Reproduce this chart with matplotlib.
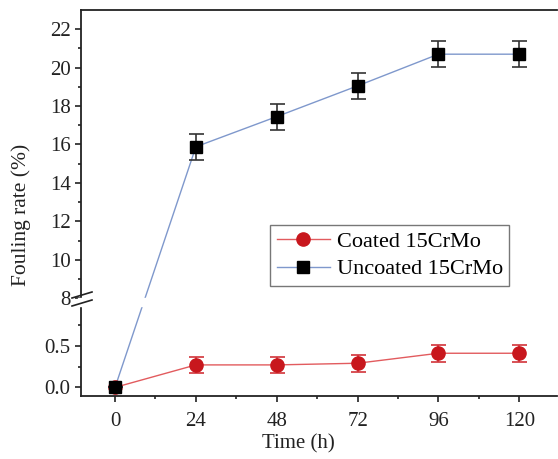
import matplotlib.pyplot as plt
import numpy as np
from matplotlib.lines import Line2D
from matplotlib.ticker import FixedLocator, FixedFormatter

plt.rcParams['font.family'] = ['Liberation Serif', 'DejaVu Serif']

# data
time_h = [0, 24, 48, 72, 96, 120]
coated = [0.0, 0.27, 0.27, 0.29, 0.41, 0.41]
coated_err = [0.0, 0.10, 0.10, 0.10, 0.10, 0.10]
uncoated = [0.0, 15.88, 17.45, 19.05, 20.70, 20.70]
uncoated_err = [0.0, 0.68, 0.68, 0.68, 0.68, 0.68]

x_ticks = [0, 24, 48, 72, 96, 120]
x_minor = [12, 36, 60, 84, 108]
y_ticks = [0, 0.5, 8, 10, 12, 14, 16, 18, 20, 22]
y_ticklabels = ['0.0', '0.5', '8', '10', '12', '14', '16', '18', '20', '22']
y_minor = [0.25, 0.75, 9, 11, 13, 15, 17, 19, 21]

# broken y scale: lower part 0..~1, upper part 8..23 (screen-linear pieces)
K_LO, K_HI = 83.2, 19.2
Y_LO, Y_HI = 0.98, 8.0
P_LO, P_HI = K_LO * Y_LO, 89.2


def fwd(y):
    y = np.asarray(y, dtype=float)
    return np.where(y <= Y_LO, y * K_LO,
                    np.where(y >= Y_HI, P_HI + (y - Y_HI) * K_HI,
                             P_LO + (y - Y_LO) * (P_HI - P_LO) / (Y_HI - Y_LO)))


def inv(p):
    p = np.asarray(p, dtype=float)
    return np.where(p <= P_LO, p / K_LO,
                    np.where(p >= P_HI, Y_HI + (p - P_HI) / K_HI,
                             Y_LO + (p - P_LO) * (Y_HI - Y_LO) / (P_HI - P_LO)))


fig = plt.figure(figsize=(5.58, 4.59), dpi=100)
ax = fig.add_axes([0.1452, 0.1379, 0.853, 0.8403])
ax.set_yscale('function', functions=(fwd, inv))

red_line, red_mk = '#e25b5e', '#c8171d'
blue_line = '#7f98cc'

# coated
ax.plot(time_h, coated, '-', color=red_line, lw=1.0, zorder=2)
ax.errorbar(time_h, coated, yerr=coated_err, fmt='none', ecolor='#d2343a',
            elinewidth=1.2, capsize=5.4, capthick=1.2, zorder=4)
ax.plot(time_h, coated, 'o', color=red_mk, ms=9.5, zorder=4)

# uncoated
ax.plot(time_h, uncoated, '-', color=blue_line, lw=1.0, zorder=2)
ax.errorbar(time_h, uncoated, yerr=uncoated_err, fmt='none', ecolor='#333333',
            elinewidth=1.2, capsize=5.4, capthick=1.2, zorder=4)
ax.plot(time_h, uncoated, 's', color='black', ms=8, zorder=5)

# break gap
ax.axhspan(Y_LO, Y_HI, xmin=-0.006, xmax=1.0, color='white', zorder=3, clip_on=False)
W, H = 558.0, 459.0
for y0 in (295.0, 303.0):
    fig.add_artist(Line2D([72 / W, 92 / W], [1 - (y0 + 3) / H, 1 - (y0 - 3) / H],
                          color='#222222', lw=1.2))

ax.set_xlim(-10.1, 131.2)
ax.set_ylim(-0.1, 23.0)
ax.xaxis.set_major_locator(FixedLocator(x_ticks))
ax.xaxis.set_minor_locator(FixedLocator(x_minor))
ax.yaxis.set_major_locator(FixedLocator(y_ticks))
ax.yaxis.set_major_formatter(FixedFormatter(y_ticklabels))
ax.yaxis.set_minor_locator(FixedLocator(y_minor))

ax.spines['right'].set_visible(False)
for s in ('left', 'bottom', 'top'):
    ax.spines[s].set_linewidth(1.3)
    ax.spines[s].set_color('#222222')
ax.tick_params(which='major', direction='out', length=4.5, width=1.2,
               labelsize=15, colors='#222222')
ax.tick_params(which='minor', direction='out', length=2.5, width=1.2, colors='#222222')
ax.tick_params(axis='y', which='both', right=False, pad=3)
ax.tick_params(axis='x', which='both', top=False, pad=7)

ax.set_xlabel('Time (h)', fontsize=15, color='#222222')
ax.xaxis.set_label_coords(0.456, -0.10)
ax.set_ylabel('Fouling rate (%)', fontsize=15.5, color='#222222')
ax.yaxis.set_label_coords(-0.105, 0.468)

handles = [Line2D([], [], color=red_line, lw=1.0, marker='o', mfc=red_mk, mec=red_mk, ms=9.5),
           Line2D([], [], color=blue_line, lw=1.0, marker='s', mfc='black', mec='black', ms=8)]
leg = ax.legend(handles, ['Coated 15CrMo', 'Uncoated 15CrMo'], loc='upper left',
                bbox_to_anchor=(0.397, 0.443), borderaxespad=0, fontsize=16,
                fancybox=False, edgecolor='#777777', framealpha=1,
                handlelength=2.4, handletextpad=0.3, borderpad=0.3, labelspacing=0.3)
leg.get_frame().set_linewidth(1.0)
leg.set_zorder(6)

fig.savefig('out.png', dpi=100)
